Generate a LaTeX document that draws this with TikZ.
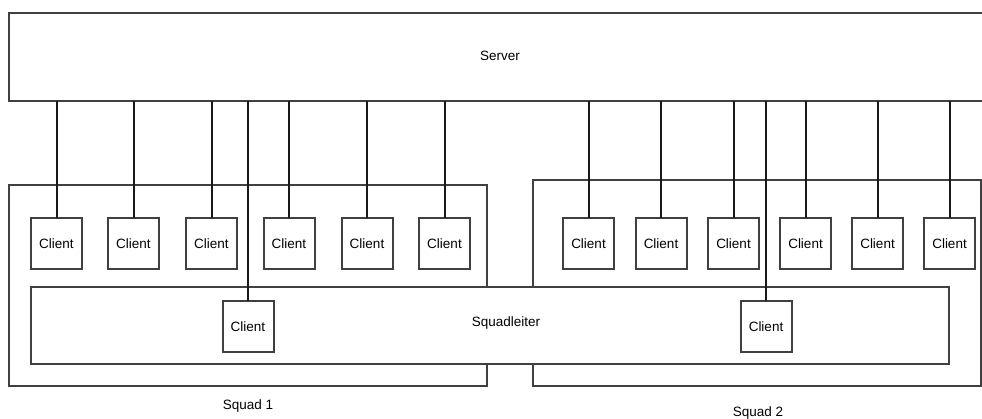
\documentclass[tikz,border=0pt]{standalone}
\usepackage{fontspec}
\setmainfont{Liberation Sans}
\begin{document}
\begin{tikzpicture}[x=1pt,y=-1pt,
  box/.style={draw=black!75,line width=2pt,fill=white,rectangle,inner sep=0pt,outer sep=0pt},
  client/.style={box,minimum width=51pt,minimum height=51pt,font=\fontsize{13.5}{15}\selectfont},
  txt/.style={font=\fontsize{13.5}{15}\selectfont,inner sep=0pt},
  wire/.style={draw=black!90,line width=2pt}]
\useasboundingbox (0,0) rectangle (982,419);
\clip (0,0) rectangle (982,419);
% squad groups
\node[box,minimum width=478pt,minimum height=201pt] (sq1) at (248,285.5) {};
\node[box,minimum width=448pt,minimum height=206pt] (sq2) at (757,283) {};
\node[txt] (sq1l) at (248,406) {Squad 1};
\node[txt] (sq2l) at (758,413) {Squad 2};
% squadleiter
\node[box,minimum width=918pt,minimum height=77pt] (sl) at (490,325.5) {};
\node[txt] (sll) at (506,323) {Squadleiter};
% server
\node[box,minimum width=982pt,minimum height=88pt] (srv) at (500,57) {};
\node[txt] (srvl) at (500,56) {Server};
% clients squad 1
\node[client] (a1) at (56.5,243.5) {Client};
\node[client] (a2) at (133.5,243.5) {Client};
\node[client] (a3) at (211.5,243.5) {Client};
\node[client] (a4) at (289,243.5) {Client};
\node[client] (a5) at (367,243.5) {Client};
\node[client] (a6) at (444.5,243.5) {Client};
% clients squad 2
\node[client] (b1) at (588.5,243.5) {Client};
\node[client] (b2) at (661,243.5) {Client};
\node[client] (b3) at (733.5,243.5) {Client};
\node[client] (b4) at (805.5,243.5) {Client};
\node[client] (b5) at (877.5,243.5) {Client};
\node[client] (b6) at (949.5,243.5) {Client};
% squadleiter clients
\node[client] (l1) at (248,327) {Client};
\node[client] (l2) at (766,327) {Client};
% wires
\foreach \n in {a1,a2,a3,a4,a5,a6,b1,b2,b3,b4,b5,b6,l1,l2}
  \draw[wire] (\n.north |- srv.south) -- (\n.north);
\end{tikzpicture}
\end{document}
